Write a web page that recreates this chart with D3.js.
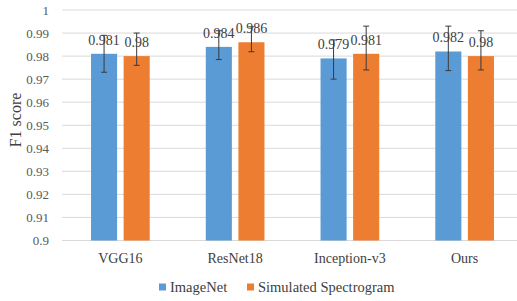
<!DOCTYPE html>
<html>
<head>
<meta charset="utf-8">
<script src="https://cdn.jsdelivr.net/npm/d3@7"></script>
<style>
  body { margin: 0; background: #fff; }
  text { font-family: "Liberation Serif", "Times New Roman", serif; fill: #404040; }
</style>
</head>
<body>
<div id="chart"></div>
<script>
const models = ['VGG16', 'ResNet18', 'Inception-v3', 'Ours'];
const seriesNames = ['ImageNet', 'Simulated Spectrogram'];
const imagenet = [0.981, 0.984, 0.979, 0.982];
const simulated = [0.98, 0.986, 0.981, 0.98];
// error bar extents (plus / minus)
const imagenetPlus = [0.008, 0.007, 0.008, 0.011];
const imagenetMinus = [0.008, 0.0055, 0.009, 0.0083];
const simulatedPlus = [0.010, 0.0067, 0.012, 0.011];
const simulatedMinus = [0.004, 0.0041, 0.007, 0.006];
const yTicks = [0.9, 0.91, 0.92, 0.93, 0.94, 0.95, 0.96, 0.97, 0.98, 0.99, 1];
const colors = ['#5B9BD5', '#ED7D31'];

const W = 517, H = 301;
const svg = d3.select('#chart').append('svg')
    .attr('width', W)
    .attr('height', H);

const x = d3.scaleBand().domain(models).range([63, 522]);
const xi = d3.scaleBand().domain(seriesNames).range([0, x.bandwidth()])
    .paddingInner(0.2).paddingOuter(0.86);
const y = d3.scaleLinear().domain([0.9, 1]).range([240.5, 10]);

// gridlines
svg.append('g')
    .selectAll('line')
    .data(yTicks)
    .enter().append('line')
    .attr('x1', 62).attr('x2', W)
    .attr('y1', d => y(d)).attr('y2', d => y(d))
    .style('stroke', '#d9d9d9')
    .style('stroke-width', 1);

// y tick labels
svg.append('g')
    .selectAll('text')
    .data(yTicks)
    .enter().append('text')
    .attr('x', 49)
    .attr('y', d => y(d) + 4.5)
    .attr('text-anchor', 'end')
    .style('font-size', '13px')
    .style('fill', '#595959')
    .text(d => d3.format('')(+d.toFixed(2)));

// y title
svg.append('text')
    .attr('transform', 'translate(21,120) rotate(-90)')
    .attr('text-anchor', 'middle')
    .style('font-size', '16px')
    .text('F1 score');

const series = [
    { name: seriesNames[0], values: imagenet, plus: imagenetPlus, minus: imagenetMinus, color: colors[0] },
    { name: seriesNames[1], values: simulated, plus: simulatedPlus, minus: simulatedMinus, color: colors[1] }
];

series.forEach(s => {
    const g = svg.append('g');
    const cx = (d, i) => x(models[i]) + xi(s.name) + xi.bandwidth() / 2;

    g.selectAll('rect')
        .data(s.values)
        .enter().append('rect')
        .attr('x', (d, i) => x(models[i]) + xi(s.name))
        .attr('y', d => y(d))
        .attr('width', xi.bandwidth())
        .attr('height', d => y(0.9) - y(d))
        .style('fill', s.color);

    // error bars
    s.values.forEach((v, i) => {
        const c = cx(v, i);
        const top = y(v + s.plus[i]);
        const bot = y(v - s.minus[i]);
        g.append('line')
            .attr('x1', c).attr('x2', c)
            .attr('y1', top).attr('y2', bot)
            .style('stroke', '#3a3a3a').style('stroke-width', 1);
        [top, bot].forEach(yy => {
            g.append('line')
                .attr('x1', c - 3).attr('x2', c + 3)
                .attr('y1', yy).attr('y2', yy)
                .style('stroke', '#3a3a3a').style('stroke-width', 1);
        });
    });

    // value labels
    g.selectAll('text')
        .data(s.values)
        .enter().append('text')
        .attr('x', cx)
        .attr('y', d => y(d) - 9)
        .attr('text-anchor', 'middle')
        .style('font-size', '14px')
        .text(d => d3.format('')(d));
});

// x labels
svg.append('g')
    .selectAll('text')
    .data(models)
    .enter().append('text')
    .attr('x', d => x(d) + x.bandwidth() / 2)
    .attr('y', 263)
    .attr('text-anchor', 'middle')
    .style('font-size', '14px')
    .text(d => d);

// legend
const legendX = [159, 247];
const legend = svg.append('g');
seriesNames.forEach((n, i) => {
    legend.append('rect')
        .attr('x', legendX[i]).attr('y', 283.5)
        .attr('width', 7).attr('height', 7)
        .style('fill', colors[i]);
    legend.append('text')
        .attr('x', legendX[i] + 11)
        .attr('y', 291.5)
        .style('font-size', '14.5px')
        .text(n);
});
</script>
</body>
</html>
